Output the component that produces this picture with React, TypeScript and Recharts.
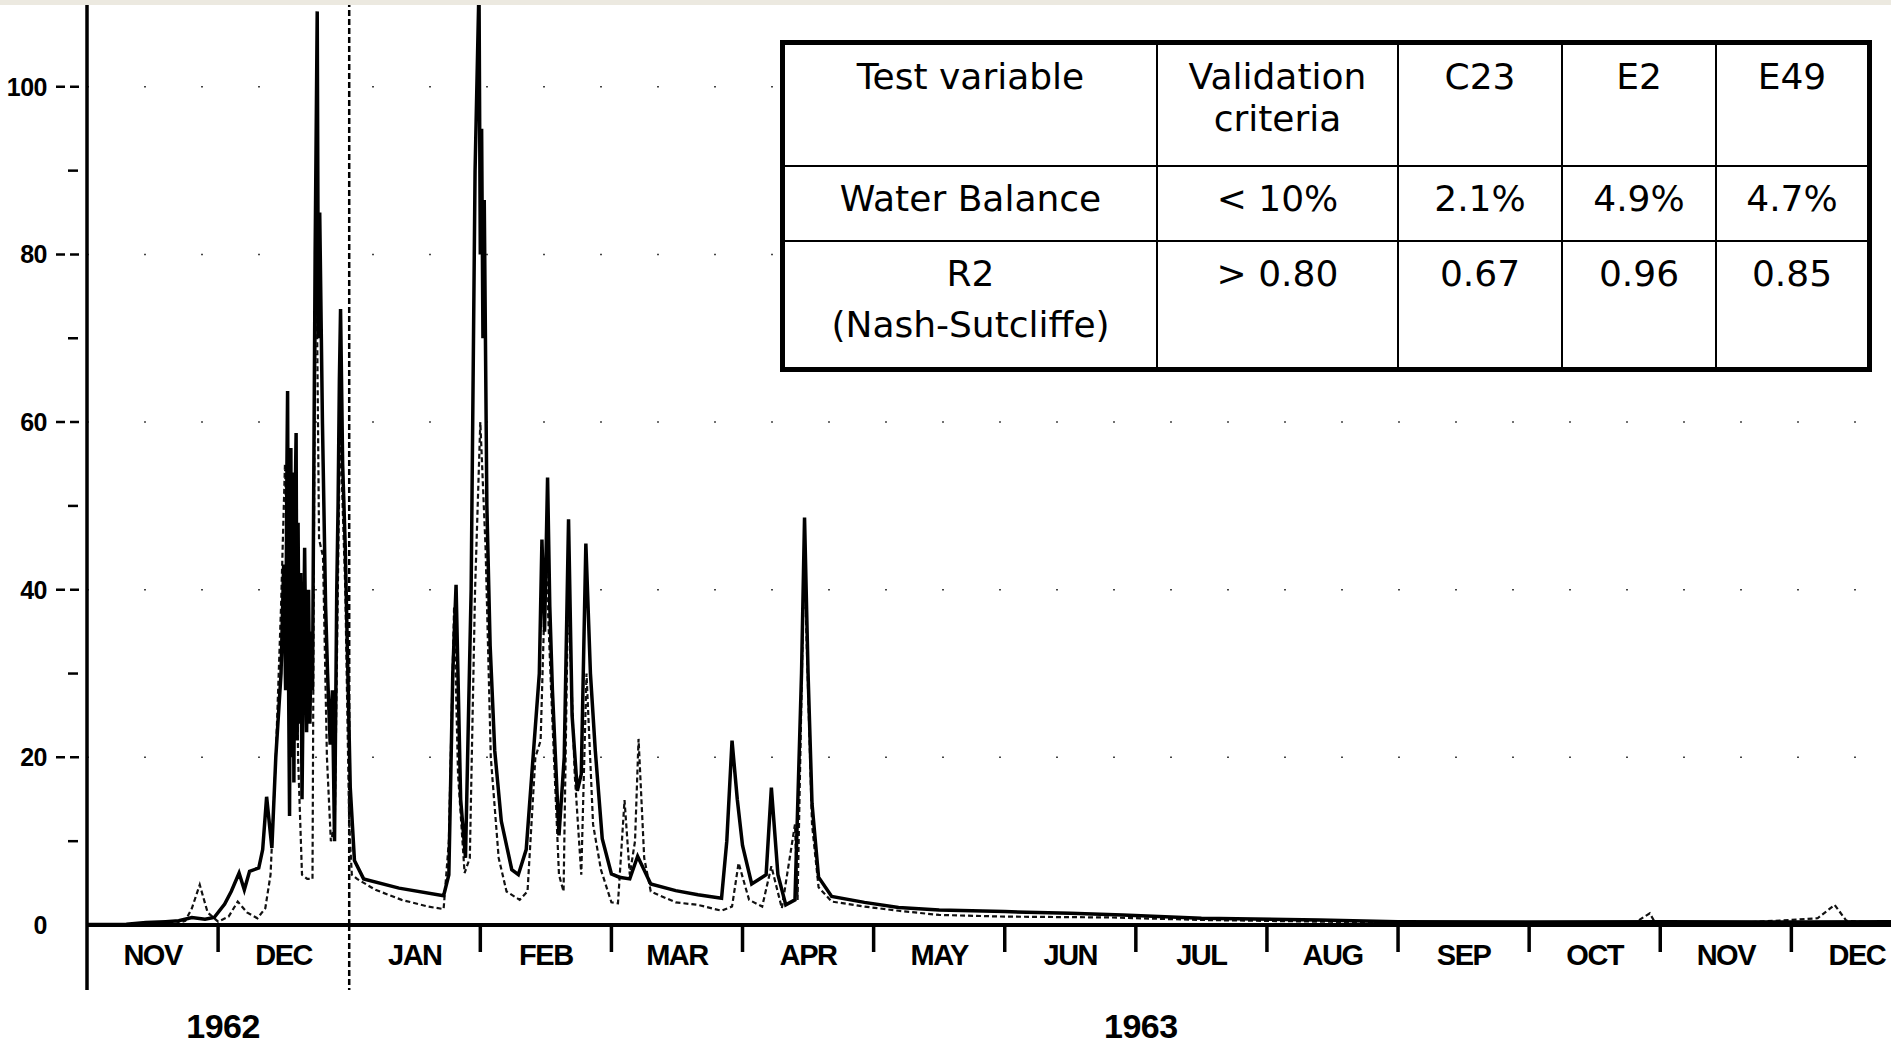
import React from 'react';
import { LineChart, Line, XAxis, YAxis, ReferenceLine } from 'recharts';

const W = 1891;
const H = 1047;
const X_AXIS_H = 122;
const Y_AXIS_W = 87;
const AXIS_Y = H - X_AXIS_H;

// x is counted in months from 1 Nov 1962 (the plot spaces months evenly)
const monthLabels = ['NOV', 'DEC', 'JAN', 'FEB', 'MAR', 'APR', 'MAY', 'JUN', 'JUL', 'AUG', 'SEP', 'OCT', 'NOV', 'DEC'];
const yearLabels = [
  { at: 1, text: '1962' },
  { at: 8, text: '1963' },
];
const yTicks = [0, 10, 20, 30, 40, 50, 60, 70, 80, 90, 100];
const gridValues = [20, 40, 60, 80, 100];
const xTicks = monthLabels.flatMap((_, i) => [i, i + 0.5]);

// solid hydrograph
const solidT = [
  0, 0.3, 0.45, 0.6, 0.7, 0.8, 0.9, 0.97, 1.05, 1.1, 1.16, 1.2, 1.24, 1.31, 1.34, 1.37, 1.41, 1.44, 1.48, 1.5,
  1.515, 1.525, 1.53, 1.537, 1.545, 1.555, 1.562, 1.57, 1.578, 1.587, 1.595, 1.603, 1.61, 1.62, 1.63, 1.64, 1.65,
  1.66, 1.675, 1.69, 1.7, 1.71, 1.72, 1.74, 1.756, 1.765, 1.775, 1.796, 1.82, 1.835, 1.855, 1.872,
  1.888, 1.905, 1.915, 1.925, 1.934, 1.95, 1.97, 2.008, 2.04, 2.11, 2.38, 2.72, 2.76, 2.79, 2.815, 2.85, 2.887, 2.93, 2.96, 2.99,
  3.0, 3.01, 3.02, 3.03, 3.05, 3.075, 3.11, 3.16, 3.24, 3.29, 3.35, 3.41, 3.45, 3.47, 3.49, 3.513, 3.53, 3.55, 3.6, 3.64, 3.673, 3.7, 3.74, 3.77,
  3.805, 3.84, 3.877, 3.93, 4.0, 4.06, 4.14, 4.2, 4.3, 4.49, 4.66, 4.84, 4.88, 4.92, 4.96, 5.0, 5.07, 5.18,
  5.22, 5.27, 5.33, 5.4, 5.45, 5.473, 5.5, 5.53, 5.58, 5.68, 5.93, 6.19, 6.5, 7.0, 7.5, 7.9, 8.5, 9.4, 10, 11,
  12, 13, 13.76,
];
const solidQ = [
  0.05, 0.1, 0.3, 0.4, 0.5, 0.9, 0.7, 0.9, 2.5, 4, 6.2, 4.2, 6.4, 6.8, 9, 15.3, 9.2, 20, 30, 43,
  28, 55, 63.7, 30, 13, 56.9, 20, 54, 17, 50, 58.7, 22, 48, 24, 42, 15, 30,
  45, 23, 40, 24, 35, 28, 80, 109, 70, 85, 59.8, 38, 30, 21.5, 28,
  10, 40, 50, 65, 73.5, 55, 45, 16.4, 7.7, 5.5, 4.4, 3.5, 6, 30, 40.6, 15, 8, 40, 90, 112,
  80, 95, 70, 86.5, 50, 33.3, 20.8, 12.4, 6.6, 6, 9, 21.6, 30, 46, 35, 53.4, 38, 28, 10.7, 20, 48.4, 25, 16, 18,
  45.5, 30, 20.8, 10.3, 6.1, 5.7, 5.5, 8.2, 4.9, 4.1, 3.6, 3.2, 10, 22, 15, 9.5, 4.9, 6,
  16.4, 6, 2.4, 3, 30, 48.6, 30, 14.5, 5.7, 3.4, 2.7, 2.1, 1.8, 1.6, 1.4, 1.2, 0.8, 0.6, 0.4, 0.35,
  0.4, 0.35, 0.4,
];

// dashed hydrograph
const dashT = [
  0, 0.65, 0.75, 0.8, 0.86, 0.92, 1.0, 1.08, 1.15, 1.22, 1.3, 1.36, 1.4, 1.44, 1.48, 1.51, 1.53, 1.55, 1.57,
  1.59, 1.61, 1.64, 1.68, 1.72, 1.735, 1.75, 1.77, 1.8, 1.83, 1.86, 1.89, 1.93, 1.97, 2.0, 2.02, 2.06, 2.2,
  2.4, 2.6, 2.72, 2.76, 2.8, 2.83, 2.88, 2.92, 2.96, 3.0, 3.04, 3.08, 3.14, 3.2, 3.3, 3.36, 3.42, 3.46, 3.5,
  3.54, 3.6, 3.635, 3.67, 3.72, 3.77, 3.81, 3.86, 3.92, 4.0, 4.05, 4.1, 4.14, 4.18, 4.207, 4.25, 4.3, 4.49,
  4.66, 4.84, 4.92, 4.97, 5.05, 5.15, 5.22, 5.3, 5.4, 5.42, 5.47, 5.53, 5.58, 5.68, 5.93, 6.19, 6.5, 7.0,
  7.8, 8.5, 9.4, 10.5, 11.8, 11.92, 11.96, 12.5, 13.0, 13.2, 13.33, 13.42, 13.76,
];
const dashQ = [
  0, 0, 0.5, 2, 4.8, 1.5, 0.4, 1.0, 2.8, 1.5, 0.8, 2, 6, 20, 38, 55, 42, 52, 30,
  45, 20, 6, 5.5, 5.5, 60, 80, 46, 44, 20, 10, 12, 60, 40, 12, 6, 5.5, 4.2,
  3.0, 2.2, 1.9, 10, 38, 18, 6.2, 8, 40, 60, 45, 20, 8, 4, 3, 4, 20, 22, 44,
  28, 6, 4, 40, 18, 6, 30, 12, 6.6, 2.7, 2.6, 14.9, 6, 10, 22.2, 8, 4, 2.7,
  2.4, 1.7, 2.2, 7.4, 3, 2.2, 7, 2.0, 12, 3, 44, 12, 4.5, 2.8, 2.2, 1.7, 1.2, 1.0,
  0.9, 0.6, 0.4, 0.2, 0.2, 1.4, 0.3, 0.2, 0.6, 0.8, 2.4, 0.5, 0.2,
];

const tableHead = ['Test variable', 'Validation criteria', 'C23', 'E2', 'E49'];
const tableRows = [
  ['Water Balance', '< 10%', '2.1%', '4.9%', '4.7%'],
  ['R2 (Nash-Sutcliffe)', '> 0.80', '0.67', '0.96', '0.85'],
];

const solidData = solidT.map((t, i) => ({ t, q: solidQ[i] }));
const dashData = dashT.map((t, i) => ({ t, q: dashQ[i] }));

const axisFont = '"Liberation Sans", Arial, sans-serif';

function XTick(props: any) {
  const { x, payload } = props;
  const v = payload.value as number;
  if (!Number.isInteger(v)) {
    return (
      <text x={x} y={AXIS_Y + 40} textAnchor="middle" fontFamily={axisFont} fontWeight="bold"
        fontSize={29} letterSpacing={-1.5} fill="#000">
        {monthLabels[Math.floor(v)]}
      </text>
    );
  }
  const year = yearLabels.find((d) => d.at === v);
  const long = v === 0 || v === 2;
  return (
    <g>
      <line x1={x} x2={x} y1={AXIS_Y} y2={AXIS_Y + (long ? 65 : 27)} stroke="#000"
        strokeWidth={v === 2 ? 2.5 : 3.5} strokeDasharray={v === 2 ? '6 3' : undefined} />
      {year && (
        <text x={x + 5} y={AXIS_Y + 113} textAnchor="middle" fontFamily={axisFont} fontWeight="bold"
          fontSize={34} letterSpacing={-0.5} fill="#000">
          {year.text}
        </text>
      )}
    </g>
  );
}

function YTick(props: any) {
  const { y, payload } = props;
  const v = payload.value as number;
  if (v % 20 !== 0) {
    return <line x1={68} x2={78} y1={y} y2={y} stroke="#000" strokeWidth={2.5} />;
  }
  return (
    <g>
      <text x={47} y={y + 9} textAnchor="end" fontFamily={axisFont} fontWeight="bold" fontSize={25}
        letterSpacing={-0.5} fill="#000">
        {v}
      </text>
      {v > 0 && <line x1={56} x2={84} y1={y} y2={y} stroke="#000" strokeWidth={2.5} strokeDasharray="9 5" />}
    </g>
  );
}

const colW = [373, 241, 164, 154, 150];
const rowH = [122, 75, 125];

function Cell({ text, col, row }: { text: string; col: number; row: number }) {
  const parts = row === 0 && col === 1 ? ['Validation', 'criteria'] : row === 2 && col === 0 ? ['R2', '(Nash-Sutcliffe)'] : [text];
  return (
    <div
      style={{
        boxSizing: 'border-box',
        width: colW[col],
        height: rowH[row],
        borderRight: col < 4 ? '2px solid #000' : 'none',
        borderBottom: row < 2 ? '2px solid #000' : 'none',
        paddingTop: 11,
        textAlign: 'center',
      }}
    >
      {parts.map((p, i) => (
        <div key={i} style={{ marginTop: i > 0 && row === 2 ? 9 : 0, whiteSpace: 'nowrap' }}>{p}</div>
      ))}
    </div>
  );
}

function StatsTable() {
  const rows = [tableHead, ...tableRows];
  return (
    <div
      style={{
        position: 'absolute',
        left: 780,
        top: 40,
        width: 1092,
        height: 332,
        boxSizing: 'border-box',
        border: '5px solid #000',
        background: '#fff',
        fontFamily: '"DejaVu Sans", Verdana, sans-serif',
        fontSize: 36,
        lineHeight: '42px',
        color: '#000',
      }}
    >
      {rows.map((r, ri) => (
        <div key={ri} style={{ display: 'flex' }}>
          {r.map((c, ci) => (
            <Cell key={ci} text={c} col={ci} row={ri} />
          ))}
        </div>
      ))}
    </div>
  );
}

export default function App() {
  return (
    <div style={{ position: 'absolute', left: 0, top: 0, width: W, height: H, background: '#fff', overflow: 'hidden' }}>
      <LineChart width={W} height={H} margin={{ top: 3, right: 0, bottom: 0, left: 0 }}>
        <XAxis
          dataKey="t"
          type="number"
          domain={[0, 13.76]}
          allowDataOverflow
          ticks={xTicks}
          interval={0}
          height={X_AXIS_H}
          tickLine={false}
          axisLine={{ stroke: '#000', strokeWidth: 4 }}
          tick={XTick}
        />
        <YAxis
          type="number"
          domain={[0, 110]}
          allowDataOverflow
          ticks={yTicks}
          interval={0}
          width={Y_AXIS_W}
          tickLine={false}
          axisLine={{ stroke: '#000', strokeWidth: 3.5 }}
          tick={YTick}
        />
        {gridValues.map((v) => (
          <ReferenceLine key={v} y={v} stroke="#444" strokeWidth={1.5} strokeDasharray="2 55" />
        ))}
        <ReferenceLine x={2} stroke="#000" strokeWidth={2.5} strokeDasharray="6 3" />
        <Line data={dashData} dataKey="q" type="linear" stroke="#111" strokeWidth={2.2}
          strokeDasharray="5 3" dot={false} isAnimationActive={false} />
        <Line data={solidData} dataKey="q" type="linear" stroke="#000" strokeWidth={3.5}
          dot={false} isAnimationActive={false} />
      </LineChart>
      <div style={{ position: 'absolute', left: 0, top: 0, width: W, height: 5, background: '#ece9e0' }} />
      <StatsTable />
    </div>
  );
}
